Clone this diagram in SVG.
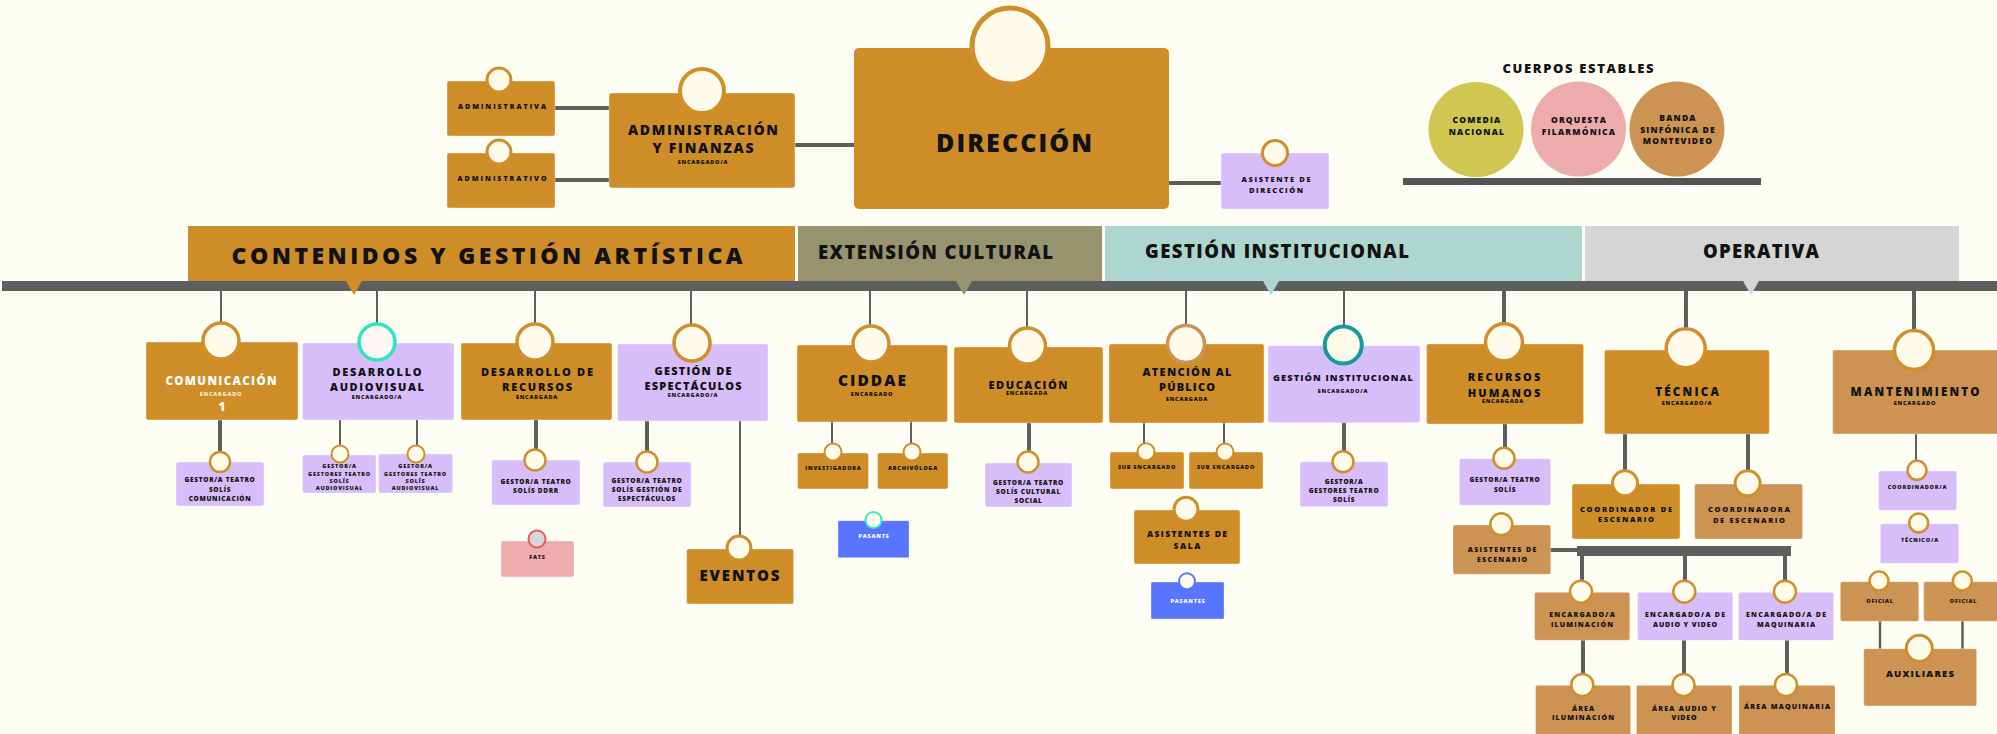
<svg xmlns="http://www.w3.org/2000/svg" width="1997" height="734" viewBox="0 0 1997 734">
<defs>
<style>
.t{font-family:'Open Sans','Liberation Sans',sans-serif;font-weight:800;fill:#121212;text-anchor:middle}
.st{text-anchor:start}
.w{fill:#ffffff}
.s5{font-size:5.5px;letter-spacing:0.8px}
.s65{font-size:6.5px;letter-spacing:0.7px}
.s7{font-size:7px;letter-spacing:1px}
.s75{font-size:7.5px;letter-spacing:1.2px}
.s85{font-size:8.5px;letter-spacing:1.2px}
.s11{font-size:11px;letter-spacing:1.5px}
.bx{stroke:#ffffff;stroke-opacity:0.35;stroke-width:1}
.gold{fill:#CE8D27}
.tan{fill:#CD9352}
.lav{fill:#D7BEFA}
.blue{fill:#5775FF}
.pink{fill:#EEACAC}
.ring{fill:#FFFBEA;stroke:#D08F2A}
.ln{stroke:#5E5E5E;fill:none}
.l2{stroke-width:2}
.l4{stroke-width:4}
</style>
</defs>
<rect x="0" y="0" width="1997" height="734" fill="#FEFDF3"/>

<g id="connectors">
<line class="ln l4" x1="555" y1="108" x2="609" y2="108"/>
<line class="ln l4" x1="555" y1="180" x2="609" y2="180"/>
<line class="ln l4" x1="795" y1="145" x2="854" y2="145"/>
<line class="ln l4" x1="1169" y1="183" x2="1221" y2="183"/>
<rect x="2" y="281" width="1995" height="10" fill="#5E5E5E"/>
<line class="ln l2" x1="221" y1="291" x2="221" y2="324"/>
<line class="ln l2" x1="377" y1="291" x2="377" y2="324"/>
<line class="ln l2" x1="535" y1="291" x2="535" y2="324"/>
<line class="ln l2" x1="691" y1="291" x2="691" y2="325"/>
<line class="ln l2" x1="870" y1="291" x2="870" y2="326"/>
<line class="ln l2" x1="1027" y1="291" x2="1027" y2="328"/>
<line class="ln l2" x1="1186" y1="291" x2="1186" y2="326"/>
<line class="ln l2" x1="1344" y1="291" x2="1344" y2="327"/>
<line class="ln l4" x1="1504" y1="291" x2="1504" y2="324"/>
<line class="ln l4" x1="1686" y1="291" x2="1686" y2="329"/>
<line class="ln l4" x1="1914" y1="291" x2="1914" y2="331"/>
<line class="ln l4" x1="220" y1="420" x2="220" y2="451"/>
<line class="ln l2" x1="340" y1="420" x2="340" y2="446"/>
<line class="ln l2" x1="417" y1="420" x2="417" y2="446"/>
<line class="ln l4" x1="536" y1="420" x2="536" y2="449"/>
<line class="ln l4" x1="647" y1="421" x2="647" y2="451"/>
<line class="ln l2" x1="740" y1="421" x2="740" y2="536"/>
<line class="ln l2" x1="832" y1="422" x2="832" y2="444"/>
<line class="ln l2" x1="911" y1="422" x2="911" y2="444"/>
<line class="ln l4" x1="1029" y1="423" x2="1029" y2="451"/>
<line class="ln l2" x1="1144" y1="423" x2="1144" y2="443"/>
<line class="ln l2" x1="1224" y1="423" x2="1224" y2="443"/>
<line class="ln l4" x1="1344" y1="422" x2="1344" y2="451"/>
<line class="ln l4" x1="1505" y1="424" x2="1505" y2="447"/>
<line class="ln l4" x1="1625" y1="433" x2="1625" y2="471"/>
<line class="ln l4" x1="1748" y1="433" x2="1748" y2="471"/>
<line class="ln l4" x1="1550" y1="550" x2="1578" y2="550"/>
<rect x="1577" y="546" width="214" height="10" fill="#5E5E5E"/>
<line class="ln l4" x1="1582" y1="555" x2="1582" y2="581"/>
<line class="ln l4" x1="1685" y1="555" x2="1685" y2="581"/>
<line class="ln l4" x1="1785" y1="555" x2="1785" y2="581"/>
<line class="ln l4" x1="1583" y1="640" x2="1583" y2="674"/>
<line class="ln l4" x1="1684" y1="640" x2="1684" y2="674"/>
<line class="ln l4" x1="1787" y1="640" x2="1787" y2="674"/>
<line class="ln l2" x1="1916" y1="434" x2="1916" y2="461"/>
<line class="ln" stroke-width="2.5" x1="1880" y1="621" x2="1880" y2="649"/>
<line class="ln" stroke-width="2.5" x1="1962.5" y1="621" x2="1962.5" y2="649"/>
</g>

<g id="band-contenidos">
<rect x="188" y="226" width="607" height="55" class="gold"/>
<polygon points="346,281 362,281 354,295" class="gold"/>
<text class="t" x="487" y="264" font-size="23" textLength="511">CONTENIDOS Y GESTIÓN ARTÍSTICA</text>
</g>
<g id="band-extension">
<rect x="798" y="226" width="304" height="55" fill="#96946F"/>
<polygon points="956,281 972,281 964,295" fill="#96946F"/>
<text class="t st" x="818" y="259" font-size="18.5" textLength="235">EXTENSIÓN CULTURAL</text>
</g>
<g id="band-gestion-institucional">
<rect x="1105" y="226" width="477" height="55" fill="#ADD7CE"/>
<polygon points="1263,281 1279,281 1271,295" fill="#ADD7CE"/>
<text class="t st" x="1145" y="258" font-size="18.5" textLength="264">GESTIÓN INSTITUCIONAL</text>
</g>
<g id="band-operativa">
<rect x="1585" y="226" width="374" height="55" fill="#D5D5D5"/>
<polygon points="1743,281 1759,281 1751,295" fill="#D5D5D5"/>
<text class="t" x="1761" y="258" font-size="18.5" textLength="116">OPERATIVA</text>
</g>

<g id="administrativa">
<rect x="447" y="81" width="108" height="55" rx="2" class="gold bx"/>
<circle cx="499" cy="80" r="12" class="ring" stroke-width="3"/>
<text class="t" x="502" y="109" font-size="7" textLength="88">ADMINISTRATIVA</text>
</g>
<g id="administrativo">
<rect x="447" y="153" width="108" height="55" rx="2" class="gold bx"/>
<circle cx="499" cy="152" r="12" class="ring" stroke-width="3"/>
<text class="t" x="502" y="181" font-size="7" textLength="89">ADMINISTRATIVO</text>
</g>
<g id="administracion-finanzas">
<rect x="609" y="93" width="186" height="95" rx="3" class="gold bx"/>
<circle cx="702" cy="91" r="22" class="ring" stroke-width="4"/>
<text class="t" x="703" y="135" font-size="14" textLength="150">ADMINISTRACIÓN</text>
<text class="t" x="703" y="153" font-size="14" textLength="101">Y FINANZAS</text>
<text class="t s5" x="703" y="164">ENCARGADO/A</text>
</g>
<g id="direccion">
<rect x="854" y="48" width="315" height="161" rx="5" class="gold"/>
<circle cx="1010" cy="46" r="38" class="ring" stroke-width="5"/>
<text class="t" x="1014" y="152" font-size="25" textLength="156">DIRECCIÓN</text>
</g>
<g id="asistente-direccion">
<rect x="1221" y="153" width="108" height="56" rx="2" class="lav bx"/>
<circle cx="1275" cy="153" r="12.5" class="ring" stroke-width="3"/>
<text class="t" x="1276" y="182" font-size="7.5" textLength="69">ASISTENTE DE</text>
<text class="t" x="1276" y="193" font-size="7.5" textLength="54">DIRECCIÓN</text>
</g>

<g id="cuerpos-estables">
<text class="t" x="1578" y="73" font-size="13" textLength="151">CUERPOS ESTABLES</text>
<circle cx="1476" cy="129.5" r="47.5" fill="#CFC752"/>
<text class="t s85" x="1477" y="123">COMEDIA</text>
<text class="t s85" x="1477" y="135">NACIONAL</text>
<circle cx="1578.5" cy="129" r="47.5" fill="#EEABAB"/>
<text class="t s85" x="1579" y="123">ORQUESTA</text>
<text class="t s85" x="1579" y="135">FILARMÓNICA</text>
<circle cx="1677" cy="129" r="47.5" fill="#CD9352"/>
<text class="t s85" x="1678" y="121">BANDA</text>
<text class="t s85" x="1678" y="132.5">SINFÓNICA DE</text>
<text class="t s85" x="1678" y="144">MONTEVIDEO</text>
<rect x="1403" y="178" width="358" height="7" fill="#555555"/>
</g>

<g id="comunicacion">
<rect x="146" y="342" width="152" height="78" rx="2" class="gold bx"/>
<circle cx="221" cy="341" r="18" class="ring" stroke-width="3.5"/>
<text class="t w" x="221" y="385" font-size="11.5" textLength="111">COMUNICACIÓN</text>
<text class="t s5" x="221" y="396" fill="#F6E9D2" style="fill:#F6E9D2">ENCARGADO</text>
<text class="t w" x="222" y="411" font-size="12">1</text>
</g>
<g id="gestor-comunicacion">
<rect x="176" y="462" width="88" height="44" rx="2" class="lav bx"/>
<circle cx="220" cy="462" r="10" class="ring" stroke-width="2.5"/>
<text class="t s65" x="220" y="482">GESTOR/A TEATRO</text>
<text class="t s65" x="220" y="492">SOLÍS</text>
<text class="t s65" x="220" y="501">COMUNICACIÓN</text>
</g>

<g id="desarrollo-audiovisual">
<rect x="302.5" y="343" width="151.5" height="77" rx="2" class="lav bx"/>
<circle cx="377" cy="342" r="18" fill="#FFF8F4" stroke="#2EE6BE" stroke-width="3.5"/>
<text class="t" x="377" y="376" font-size="11" textLength="89">DESARROLLO</text>
<text class="t" x="377" y="391" font-size="11" textLength="94">AUDIOVISUAL</text>
<text class="t s5" x="377" y="399">ENCARGADO/A</text>
</g>
<g id="gestor-audiovisual-1">
<rect x="302.5" y="455" width="73.5" height="38" rx="2" class="lav bx"/>
<circle cx="340" cy="454" r="8.5" class="ring" stroke-width="2"/>
<text class="t s5" x="339.5" y="467.7" letter-spacing="0.4">GESTOR/A</text>
<text class="t s5" x="339.5" y="475.7" letter-spacing="0.4">GESTORES TEATRO</text>
<text class="t s5" x="339.5" y="482.7" letter-spacing="0.4">SOLÍS</text>
<text class="t s5" x="339.5" y="490" letter-spacing="0.4">AUDIOVISUAL</text>
</g>
<g id="gestor-audiovisual-2">
<rect x="378.6" y="454" width="74" height="39" rx="2" class="lav bx"/>
<circle cx="416" cy="454" r="8.5" class="ring" stroke-width="2"/>
<text class="t s5" x="415.5" y="467.7" letter-spacing="0.4">GESTOR/A</text>
<text class="t s5" x="415.5" y="475.7" letter-spacing="0.4">GESTORES TEATRO</text>
<text class="t s5" x="415.5" y="482.7" letter-spacing="0.4">SOLÍS</text>
<text class="t s5" x="415.5" y="490" letter-spacing="0.4">AUDIOVISUAL</text>
</g>

<g id="desarrollo-recursos">
<rect x="461" y="343" width="151" height="77" rx="2" class="gold bx"/>
<circle cx="535" cy="342" r="18" class="ring" stroke-width="3.5"/>
<text class="t" x="537" y="376" font-size="11" textLength="112">DESARROLLO DE</text>
<text class="t" x="537" y="391" font-size="11" textLength="70">RECURSOS</text>
<text class="t s5" x="537" y="399">ENCARGADA</text>
</g>
<g id="gestor-ddrr">
<rect x="491.6" y="460" width="88.4" height="45" rx="2" class="lav bx"/>
<circle cx="535" cy="460" r="10.5" class="ring" stroke-width="2.5"/>
<text class="t s65" x="536" y="484">GESTOR/A TEATRO</text>
<text class="t s65" x="536" y="493">SOLÍS DDRR</text>
</g>
<g id="fats">
<rect x="501" y="541" width="73" height="36" rx="2" class="pink bx"/>
<circle cx="537" cy="539" r="8.5" fill="#D6D6D6" stroke="#F05A5A" stroke-width="2"/>
<text class="t s5" x="537.5" y="558.7">FATS</text>
</g>

<g id="gestion-espectaculos">
<rect x="617.5" y="344" width="150.5" height="77" rx="2" class="lav bx"/>
<circle cx="692" cy="343" r="18" class="ring" stroke-width="3.5"/>
<text class="t" x="693" y="375" font-size="11" textLength="77">GESTIÓN DE</text>
<text class="t" x="693" y="390" font-size="11" textLength="97">ESPECTÁCULOS</text>
<text class="t s5" x="693" y="396.5">ENCARGADO/A</text>
</g>
<g id="gestor-espectaculos">
<rect x="603" y="462" width="88" height="45" rx="2" class="lav bx"/>
<circle cx="647" cy="462" r="10.5" class="ring" stroke-width="2.5"/>
<text class="t s65" x="647" y="482.7">GESTOR/A TEATRO</text>
<text class="t s65" x="647" y="492">SOLÍS GESTIÓN DE</text>
<text class="t s65" x="647" y="501">ESPECTÁCULOS</text>
</g>
<g id="eventos">
<rect x="686.6" y="549" width="107" height="55" rx="2" class="gold bx"/>
<circle cx="739" cy="548" r="12" class="ring" stroke-width="3"/>
<text class="t" x="739.5" y="580.7" font-size="15" textLength="80">EVENTOS</text>
</g>

<g id="ciddae">
<rect x="797" y="345" width="150.5" height="77" rx="2" class="gold bx"/>
<circle cx="871" cy="344" r="18" class="ring" stroke-width="3.5"/>
<text class="t" x="872" y="386" font-size="15.5" textLength="68">CIDDAE</text>
<text class="t s5" x="872" y="396">ENCARGADO</text>
</g>
<g id="investigadora">
<rect x="797.5" y="453" width="71" height="36" rx="2" class="gold bx"/>
<circle cx="833" cy="452" r="8.5" class="ring" stroke-width="2"/>
<text class="t s5" x="833.5" y="469.7">INVESTIGADORA</text>
</g>
<g id="archivologa">
<rect x="877.5" y="453" width="70.5" height="36" rx="2" class="gold bx"/>
<circle cx="912" cy="452" r="8.5" class="ring" stroke-width="2"/>
<text class="t s5" x="913" y="469.7">ARCHIVÓLOGA</text>
</g>
<g id="pasante">
<rect x="838" y="520.7" width="71" height="37" rx="1" class="blue bx"/>
<circle cx="873.5" cy="520" r="8" fill="#FFFBEA" stroke="#3EE8C2" stroke-width="2"/>
<text class="t s5 w" x="874" y="538">PASANTE</text>
</g>

<g id="educacion">
<rect x="954" y="347" width="149" height="76" rx="2" class="gold bx"/>
<circle cx="1027.5" cy="346" r="18" class="ring" stroke-width="3.5"/>
<text class="t" x="1028" y="389" font-size="11" textLength="79">EDUCACIÓN</text>
<text class="t s5" x="1027" y="394.5">ENCARGADA</text>
</g>
<g id="gestor-educacion">
<rect x="985" y="463" width="87" height="44" rx="2" class="lav bx"/>
<circle cx="1028" cy="462" r="10.5" class="ring" stroke-width="2.5"/>
<text class="t s65" x="1028.5" y="485">GESTOR/A TEATRO</text>
<text class="t s65" x="1028.5" y="494">SOLÍS CULTURAL</text>
<text class="t s65" x="1028.5" y="503">SOCIAL</text>
</g>

<g id="atencion-publico">
<rect x="1109" y="344" width="155" height="79" rx="2" class="gold bx"/>
<circle cx="1186" cy="344" r="18.5" fill="#FFFBEA" stroke="#CD9352" stroke-width="3.5"/>
<text class="t" x="1187" y="375.7" font-size="11" textLength="89">ATENCIÓN AL</text>
<text class="t" x="1187" y="390.7" font-size="11" textLength="56">PÚBLICO</text>
<text class="t s5" x="1187" y="400.7">ENCARGADA</text>
</g>
<g id="sub-encargado-1">
<rect x="1110" y="452" width="74" height="37" rx="2" class="gold bx"/>
<circle cx="1146" cy="451.7" r="8.5" class="ring" stroke-width="2"/>
<text class="t s5" x="1147" y="469.3">SUB ENCARGADO</text>
</g>
<g id="sub-encargado-2">
<rect x="1189" y="452" width="74" height="37" rx="2" class="gold bx"/>
<circle cx="1225" cy="452" r="8.5" class="ring" stroke-width="2"/>
<text class="t s5" x="1226" y="469.3">SUB ENCARGADO</text>
</g>
<g id="asistentes-sala">
<rect x="1134" y="510" width="106" height="54" rx="2" class="gold bx"/>
<circle cx="1186" cy="509.3" r="12" class="ring" stroke-width="3"/>
<text class="t" x="1187" y="536.7" font-size="8.5" textLength="80">ASISTENTES DE</text>
<text class="t" x="1187" y="548.7" font-size="8.5" textLength="27">SALA</text>
</g>
<g id="pasantes">
<rect x="1151" y="582" width="73" height="37" rx="1" class="blue bx"/>
<circle cx="1187" cy="581.3" r="8" fill="#FFFBEA" stroke="#5775FF" stroke-width="2"/>
<text class="t s5 w" x="1188" y="602.7">PASANTES</text>
</g>

<g id="gestion-institucional">
<rect x="1268" y="345.7" width="152" height="77" rx="2" class="lav bx"/>
<circle cx="1343.3" cy="345" r="18.5" fill="#FFFBEA" stroke="#149C9C" stroke-width="4"/>
<text class="t" x="1343" y="380.7" font-size="9.3" textLength="140">GESTIÓN INSTITUCIONAL</text>
<text class="t s5" x="1343" y="392.7">ENCARGADO/A</text>
</g>
<g id="gestor-institucional">
<rect x="1300" y="461.7" width="88" height="45" rx="2" class="lav bx"/>
<circle cx="1343" cy="461.7" r="10.5" class="ring" stroke-width="2.5"/>
<text class="t s65" x="1344" y="484">GESTOR/A</text>
<text class="t s65" x="1344" y="493.3">GESTORES TEATRO</text>
<text class="t s65" x="1344" y="502.3">SOLÍS</text>
</g>

<g id="recursos-humanos">
<rect x="1426.6" y="344" width="157" height="80" rx="2" class="gold bx"/>
<circle cx="1504" cy="342.3" r="18.5" class="ring" stroke-width="3.5"/>
<text class="t" x="1504" y="380.7" font-size="11" textLength="72.5">RECURSOS</text>
<text class="t" x="1504" y="396.7" font-size="11" textLength="72.5">HUMANOS</text>
<text class="t s5" x="1503" y="402.7">ENCARGADA</text>
</g>
<g id="gestor-rrhh">
<rect x="1459.4" y="458.7" width="91.3" height="46.6" rx="2" class="lav bx"/>
<circle cx="1504" cy="458.3" r="10.5" class="ring" stroke-width="2.5"/>
<text class="t s65" x="1505" y="482.3">GESTOR/A TEATRO</text>
<text class="t s65" x="1505" y="491.7">SOLÍS</text>
</g>
<g id="asistentes-escenario">
<rect x="1453" y="525" width="97.7" height="49.3" rx="2" class="tan bx"/>
<circle cx="1501.3" cy="524.3" r="11" class="ring" stroke-width="2.5"/>
<text class="t" x="1502" y="552" font-size="7" textLength="68.5">ASISTENTES DE</text>
<text class="t" x="1502" y="562" font-size="7" textLength="50">ESCENARIO</text>
</g>

<g id="tecnica">
<rect x="1604.4" y="350" width="165" height="84" rx="2" class="gold bx"/>
<circle cx="1685.7" cy="348.3" r="19.5" class="ring" stroke-width="3.5"/>
<text class="t" x="1687" y="395.7" font-size="11.6" textLength="63.7">TÉCNICA</text>
<text class="t s5" x="1687" y="405">ENCARGADO/A</text>
</g>
<g id="coordinador-escenario">
<rect x="1572" y="484" width="108" height="55" rx="2" class="gold bx"/>
<circle cx="1625" cy="483.3" r="12.5" class="ring" stroke-width="3"/>
<text class="t" x="1626" y="511.7" font-size="7.5" textLength="92">COORDINADOR DE</text>
<text class="t" x="1626" y="522" font-size="7.5" textLength="56">ESCENARIO</text>
</g>
<g id="coordinadora-escenario">
<rect x="1694.6" y="484" width="108" height="55" rx="2" class="tan bx"/>
<circle cx="1747.6" cy="483.3" r="12.5" class="ring" stroke-width="3"/>
<text class="t" x="1749" y="511.7" font-size="7.5" textLength="82">COORDINADORA</text>
<text class="t" x="1749" y="522.7" font-size="7.5" textLength="72">DE ESCENARIO</text>
</g>
<g id="encargado-iluminacion">
<rect x="1534.5" y="592.3" width="95.3" height="48" rx="2" class="tan bx"/>
<circle cx="1581" cy="591.7" r="11" class="ring" stroke-width="2.5"/>
<text class="t" x="1582" y="616.7" font-size="7" textLength="65.5">ENCARGADO/A</text>
<text class="t" x="1582" y="626.7" font-size="7" textLength="62">ILUMINACIÓN</text>
</g>
<g id="encargado-audio-video">
<rect x="1637.5" y="592.3" width="95.3" height="48" rx="2" class="lav bx"/>
<circle cx="1684.3" cy="591.7" r="11" class="ring" stroke-width="2.5"/>
<text class="t" x="1685" y="616.7" font-size="7" textLength="80">ENCARGADO/A DE</text>
<text class="t" x="1685" y="626.7" font-size="7" textLength="64">AUDIO Y VIDEO</text>
</g>
<g id="encargado-maquinaria">
<rect x="1738.4" y="592.3" width="95.3" height="48" rx="2" class="lav bx"/>
<circle cx="1785" cy="591.7" r="11" class="ring" stroke-width="2.5"/>
<text class="t" x="1786" y="616.7" font-size="7" textLength="80">ENCARGADO/A DE</text>
<text class="t" x="1786" y="626.7" font-size="7" textLength="58">MAQUINARIA</text>
</g>
<g id="area-iluminacion">
<rect x="1535.6" y="685.3" width="95" height="55" rx="2" class="tan bx"/>
<circle cx="1582.3" cy="685" r="11" class="ring" stroke-width="2.5"/>
<text class="t" x="1583" y="710.7" font-size="7" textLength="22">ÁREA</text>
<text class="t" x="1583" y="720" font-size="7" textLength="62">ILUMINACIÓN</text>
</g>
<g id="area-audio-video">
<rect x="1636.4" y="685.3" width="95.6" height="55" rx="2" class="tan bx"/>
<circle cx="1683.5" cy="685" r="11" class="ring" stroke-width="2.5"/>
<text class="t" x="1684" y="710.7" font-size="7" textLength="64">ÁREA AUDIO Y</text>
<text class="t" x="1684" y="720" font-size="7" textLength="25">VIDEO</text>
</g>
<g id="area-maquinaria">
<rect x="1739" y="685.3" width="96" height="55" rx="2" class="tan bx"/>
<circle cx="1786" cy="685" r="11" class="ring" stroke-width="2.5"/>
<text class="t" x="1787" y="709.3" font-size="7" textLength="86">ÁREA MAQUINARIA</text>
</g>

<g id="mantenimiento">
<rect x="1832.6" y="350" width="170" height="84" rx="2" class="tan bx"/>
<circle cx="1914" cy="350" r="19.5" class="ring" stroke-width="3.5"/>
<text class="t" x="1915" y="395.7" font-size="11.6" textLength="128.8">MANTENIMIENTO</text>
<text class="t s5" x="1915" y="405">ENCARGADO</text>
</g>
<g id="coordinador-mantenimiento">
<rect x="1878.7" y="471" width="78" height="39.3" rx="2" class="lav bx"/>
<circle cx="1917" cy="470.3" r="9.5" class="ring" stroke-width="2.5"/>
<text class="t s5" x="1917.5" y="489.3">COORDINADOR/A</text>
</g>
<g id="tecnico-mantenimiento">
<rect x="1880.3" y="523.7" width="78.4" height="39.6" rx="2" class="lav bx"/>
<circle cx="1918.7" cy="523" r="9.5" class="ring" stroke-width="2.5"/>
<text class="t s5" x="1920" y="541.7">TÉCNICO/A</text>
</g>
<g id="oficial-1">
<rect x="1840.3" y="581.7" width="78.4" height="39.6" rx="2" class="tan bx"/>
<circle cx="1879" cy="581" r="9.5" class="ring" stroke-width="2.5"/>
<text class="t s5" x="1880" y="603.3">OFICIAL</text>
</g>
<g id="oficial-2">
<rect x="1923.7" y="581.7" width="78" height="39.6" rx="2" class="tan bx"/>
<circle cx="1962.3" cy="581" r="9.5" class="ring" stroke-width="2.5"/>
<text class="t s5" x="1963.5" y="603.3">OFICIAL</text>
</g>
<g id="auxiliares">
<rect x="1863.7" y="648.7" width="113" height="57.3" rx="2" class="tan bx"/>
<circle cx="1919.3" cy="648.3" r="13" class="ring" stroke-width="3"/>
<text class="t" x="1920" y="676.7" font-size="9.5" textLength="68">AUXILIARES</text>
</g>
</svg>
